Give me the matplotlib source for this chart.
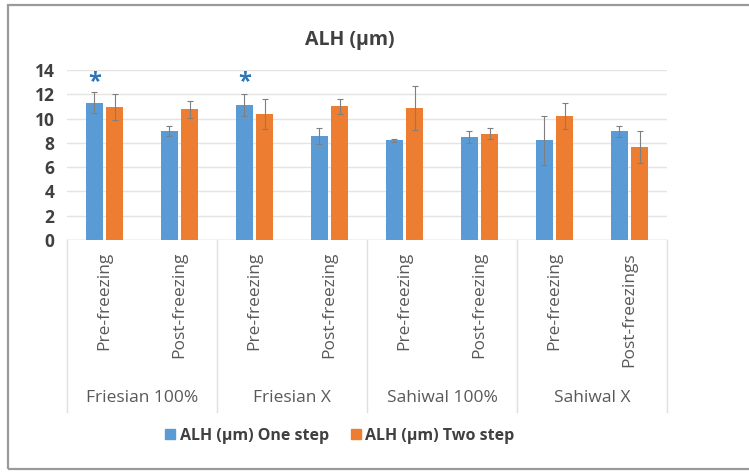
import matplotlib.pyplot as plt
import numpy as np
from matplotlib.patches import Rectangle

plt.rcParams['font.family'] = ['Open Sans', 'DejaVu Sans']

groups = ["Friesian 100%", "Friesian X", "Sahiwal 100%", "Sahiwal X"]
stages = ["Pre-freezing", "Post-freezing", "Pre-freezing", "Post-freezing",
          "Pre-freezing", "Post-freezing", "Pre-freezing", "Post-freezings"]
one_step = [11.3, 9.0, 11.1, 8.55, 8.2, 8.5, 8.2, 8.95]
one_err = [0.85, 0.4, 0.9, 0.65, 0.15, 0.5, 2.0, 0.45]
two_step = [10.95, 10.75, 10.4, 11.0, 10.85, 8.75, 10.2, 7.65]
two_err = [1.1, 0.7, 1.25, 0.6, 1.8, 0.45, 1.05, 1.3]
star_idx = [0, 2]

BLUE = "#5B9BD5"
ORANGE = "#ED7D31"

fig = plt.figure(figsize=(7.49, 4.72), dpi=100)
W, H = 749, 472
# outer frame
fig.patches.append(Rectangle((8 / W, 1 - 469 / H), 760 / W, 464 / H,
                             transform=fig.transFigure, fill=False,
                             edgecolor="#9a9a9a", linewidth=1.6))

ax = fig.add_axes([67 / W, 1 - 240 / H, 600 / W, 170 / H])
x = np.arange(len(stages))
bw = 0.22
ax.bar(x - 0.135, one_step, bw, color=BLUE, zorder=3,
       yerr=one_err, error_kw=dict(ecolor="#7f7f7f", elinewidth=0.8, capsize=2.5, capthick=0.8))
ax.bar(x + 0.135, two_step, bw, color=ORANGE, zorder=3,
       yerr=two_err, error_kw=dict(ecolor="#7f7f7f", elinewidth=0.8, capsize=2.5, capthick=0.8))
for i in star_idx:
    ax.text(x[i] - 0.135, 13.0, "*", color="#2E75B6", ha="center", va="center",
            fontsize=17, fontweight="bold")

ax.set_xlim(-0.5, 7.5)
ax.set_ylim(0, 14)
ax.set_yticks(range(0, 15, 2))
ax.tick_params(axis="y", length=0, labelsize=12.5, labelcolor="#404040", pad=9)
ax.tick_params(axis="x", length=0)
ax.set_xticks([])
for lab in ax.get_yticklabels():
    lab.set_fontweight("bold")
ax.grid(axis="y", color="#e4e4e4", linewidth=1, zorder=0)
for s in ax.spines.values():
    s.set_visible(False)
ax.axhline(0, color="#d9d9d9", linewidth=1, zorder=2)

tr = ax.get_xaxis_transform()
for b in [-0.5, 1.5, 3.5, 5.5, 7.5]:
    ax.plot([b, b], [0, -1.012], color="#e0e0e0", linewidth=1,
            transform=tr, clip_on=False)
for i, lab in enumerate(stages):
    ax.text(x[i], -0.07, lab, rotation=90, ha="center", va="top",
            transform=tr, fontsize=12.5, color="#595959")
for g, lab in enumerate(groups):
    ax.text(2 * g + 0.5, -0.93, lab, ha="center", va="center",
            transform=tr, fontsize=12.5, color="#595959")

fig.text(350 / W, 1 - 40 / H, "ALH (µm)", ha="center", va="center",
         fontsize=14, fontweight="bold", color="#404040")

handles = [Rectangle((0, 0), 1, 1, color=BLUE), Rectangle((0, 0), 1, 1, color=ORANGE)]
fig.legend(handles, ["ALH (µm) One step", "ALH (µm) Two step"],
           loc="center", bbox_to_anchor=(340 / W, 1 - 436 / H), ncol=2,
           frameon=False, handlelength=0.6, handleheight=0.6, handletextpad=0.3,
           columnspacing=1.4, prop=dict(size=11.5, weight="bold"), labelcolor="#404040")

fig.savefig("out.png", dpi=100)
